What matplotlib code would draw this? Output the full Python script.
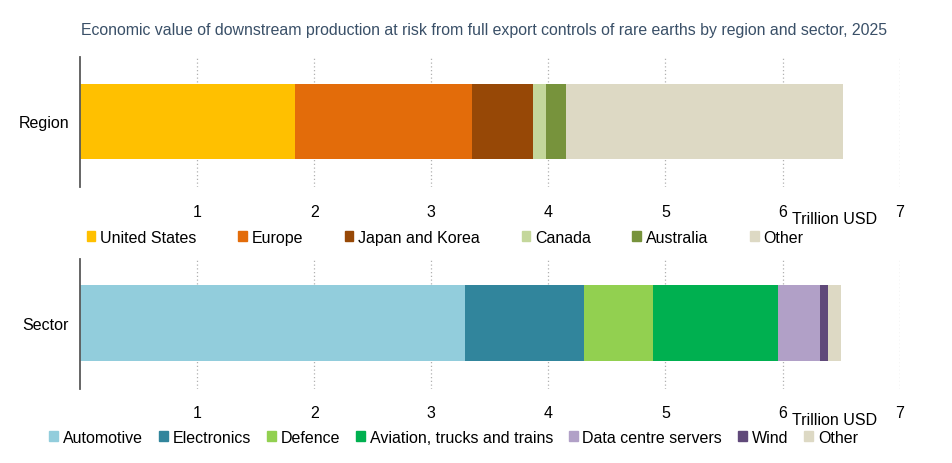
import matplotlib.pyplot as plt
from matplotlib.patches import Patch

plt.rcParams['font.family'] = ['Liberation Sans', 'DejaVu Sans']

# data (trillion USD)
region_names = ["United States", "Europe", "Japan and Korea", "Canada", "Australia", "Other"]
region_vals = [1.84, 1.51, 0.52, 0.11, 0.17, 2.37]
region_colors = ["#FFC000", "#E36C0A", "#974806", "#C4D79B", "#77933C", "#DDD9C4"]

sector_names = ["Automotive", "Electronics", "Defence", "Aviation, trucks and trains",
                "Data centre servers", "Wind", "Other"]
sector_vals = [3.29, 1.01, 0.59, 1.07, 0.36, 0.07, 0.11]
sector_colors = ["#92CDDC", "#31859C", "#92D050", "#00B050", "#B1A0C7", "#60497A", "#DDD9C4"]

xticks = [1, 2, 3, 4, 5, 6, 7]

fig = plt.figure(figsize=(9.53, 4.64), dpi=100)
fig.text(0.508, 0.935, "Economic value of downstream production at risk from full export "
         "controls of rare earths by region and sector, 2025",
         ha='center', va='center', fontsize=11.4, color='#3A5068')


def stacked(ax, label, vals, colors):
    left = 0
    for v, c in zip(vals, colors):
        ax.barh(0, v, left=left, height=0.58, color=c, zorder=2)
        left += v
    ax.set_xlim(0, 7)
    ax.set_ylim(-0.505, 0.495)
    ax.set_xticks(xticks)
    ax.set_xticklabels([str(t) for t in xticks], fontsize=11.5)
    ax.set_yticks([0])
    ax.set_yticklabels([label], fontsize=11.5)
    ax.tick_params(axis='x', length=0, pad=12)
    ax.tick_params(axis='y', length=0, pad=8)
    for t in xticks:
        ax.axvline(t, color='#B0B0B0', lw=0.9, ls=(0, (1, 2)), zorder=1)
    for s in ['top', 'right', 'bottom']:
        ax.spines[s].set_visible(False)
    ax.spines['left'].set_color('#595959')
    ax.spines['left'].set_linewidth(1.3)
    ax.text(0.92, -0.24, "Trillion USD", transform=ax.transAxes,
            ha='center', va='center', fontsize=11.5)


ax1 = fig.add_axes([0.084, 0.595, 0.86, 0.28])
stacked(ax1, "Region", region_vals, region_colors)
ax2 = fig.add_axes([0.084, 0.16, 0.86, 0.28])
stacked(ax2, "Sector", sector_vals, sector_colors)

legends = [(region_names, region_colors, 0.467, 0.487, 2.6),
           (sector_names, sector_colors, 0.476, 0.056, 1.0)]
for names, colors, x, y, gap in legends:
    handles = [Patch(color=c, label=n) for n, c in zip(names, colors)]
    fig.legend(handles=handles, loc='center', bbox_to_anchor=(x, y), ncol=len(names),
               frameon=False, fontsize=11.5, handlelength=0.55, handleheight=0.55,
               handletextpad=0.3, columnspacing=gap, borderaxespad=0)

fig.savefig("out.png", dpi=100)
